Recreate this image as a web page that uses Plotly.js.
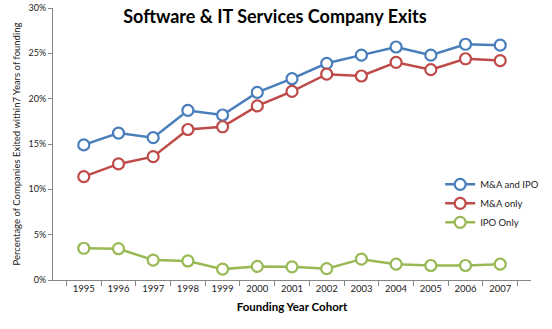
<!DOCTYPE html>
<html><head><meta charset="utf-8">
<script src="https://cdn.plot.ly/plotly-3.0.1.min.js"></script>
<style>html,body{margin:0;padding:0;background:#fff}#c{width:552px;height:329px}</style>
</head><body><div id="c"></div>
<script>
const years = ['1995','1996','1997','1998','1999','2000','2001','2002','2003','2004','2005','2006','2007'];
const mnaAndIpo = [14.9,16.2,15.7,18.7,18.2,20.7,22.2,23.9,24.8,25.7,24.8,26.0,25.9];
const mnaOnly = [11.4,12.8,13.6,16.6,16.9,19.2,20.8,22.7,22.5,24.0,23.2,24.4,24.2];
const ipoOnly = [3.5,3.45,2.2,2.1,1.2,1.5,1.45,1.25,2.3,1.75,1.6,1.6,1.75];
const seriesNames = ['M&A and IPO','M&A only','IPO Only'];
const colors = ['#4A7EBB','#BE4B48','#98B954'];
const font = 'Lato, "Open Sans", sans-serif';
const traces = [mnaAndIpo, mnaOnly, ipoOnly].map((v,i)=>({
  x: years, y: v.map(d=>d/100), name: seriesNames[i], type:'scatter', mode:'lines+markers',
  line:{color:colors[i], width:2.5},
  marker:{symbol:'circle', size:11, color:'#fff', line:{color:colors[i], width:2.2}}
}));
const layout = {
  width:552, height:329, margin:{l:53,r:9,t:8,b:49},
  paper_bgcolor:'#fff', plot_bgcolor:'#fff',
  font:{family:font, color:'#222', size:9},
  title:{text:'<b>Software & IT Services Company Exits</b>', font:{family:font,size:18,color:'#000'}, x:0.498, xref:'container', xanchor:'center', y:0.95, yref:'container', yanchor:'middle'},
  xaxis:{type:'category', showgrid:false, showline:true, linecolor:'#868686', linewidth:1,
    ticks:'outside', ticklen:5, tickcolor:'#868686', tickson:'boundaries', tickfont:{size:9.5,color:'#222'},
    title:{text:'<b>Founding Year Cohort</b>', font:{size:11.5,color:'#000'}, standoff:9}, zeroline:false},
  yaxis:{range:[0,0.3], dtick:0.05, tickformat:'.0%', showgrid:false, showline:true, linecolor:'#868686', linewidth:1,
    ticks:'outside', ticklen:4, tickcolor:'#868686', tickfont:{size:9,color:'#222'}, zeroline:false,
    title:{text:'Percentage of Companies Exited within7 Years of founding', font:{size:9.5,color:'#222'}, standoff:6}},
  showlegend:true,
  legend:{x:0.81, y:0.405, xanchor:'left', yanchor:'top', font:{size:9.5,color:'#222'}, bgcolor:'rgba(0,0,0,0)', tracegroupgap:0, itemwidth:30},
};
Plotly.newPlot('c', traces, layout, {displayModeBar:false, staticPlot:true});
</script></body></html>
